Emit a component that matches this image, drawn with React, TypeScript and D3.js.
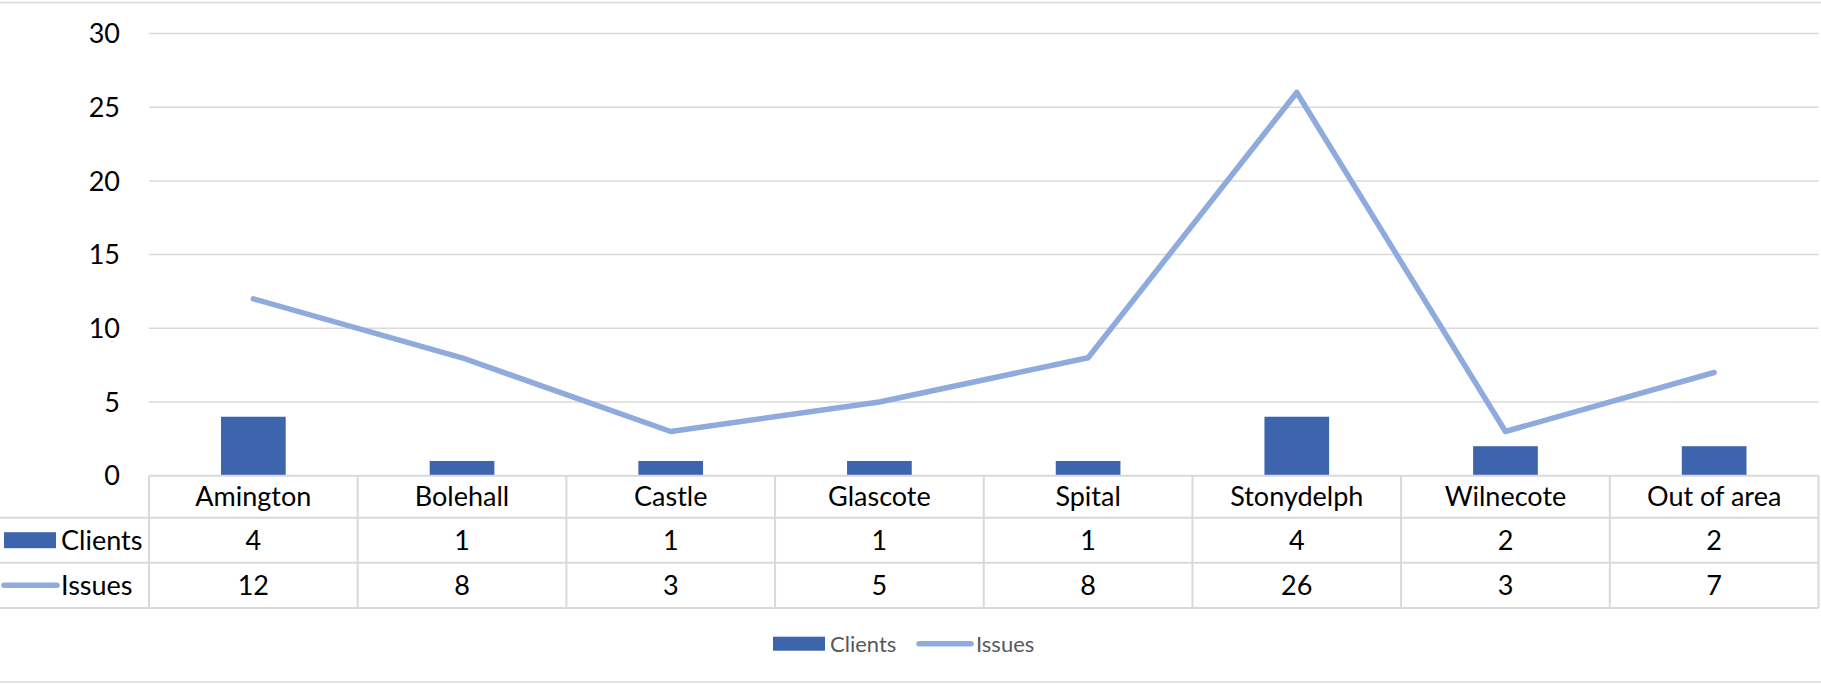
import { useEffect, useRef } from "react"
import * as d3 from "d3"

const categories = ["Amington", "Bolehall", "Castle", "Glascote", "Spital", "Stonydelph", "Wilnecote", "Out of area"]
const clients = [4, 1, 1, 1, 1, 4, 2, 2]
const issues = [12, 8, 3, 5, 8, 26, 3, 7]
const yTicks = [0, 5, 10, 15, 20, 25, 30]

const W = 1821
const H = 684
const BAR = "#3D65AE"
const LINE = "#8FAADC"
const GRID = "#D9D9D9"
const FONT = "Lato, 'Open Sans', sans-serif"

export default function App() {
  const svgRef = useRef<SVGSVGElement>(null)

  useEffect(() => {
    if (!svgRef.current) return
    const svg = d3.select(svgRef.current)
    svg.selectAll("*").remove()

    const left = 149
    const right = 1818.5
    const top = 33.5
    const zeroY = 475.7
    const rowTops = [zeroY, 517.7, 562.7, 608]

    const x = d3.scaleBand<string>().domain(categories).range([left, right]).padding(0)
    const y = d3.scaleLinear().domain([0, 30]).range([zeroY, top])
    const barW = x.bandwidth() * 0.31
    const cx = (c: string) => (x(c) as number) + x.bandwidth() / 2

    // outer border lines
    svg.append("line").attr("x1", 0).attr("x2", W).attr("y1", 2.5).attr("y2", 2.5)
      .style("stroke", GRID).style("stroke-width", 1.5)
    svg.append("line").attr("x1", 0).attr("x2", W).attr("y1", 682).attr("y2", 682)
      .style("stroke", GRID).style("stroke-width", 1.5)

    // gridlines
    svg.append("g").selectAll("line").data(yTicks.filter((t) => t > 0)).enter().append("line")
      .attr("x1", left).attr("x2", right)
      .attr("y1", (d) => y(d)).attr("y2", (d) => y(d))
      .style("stroke", GRID).style("stroke-width", 1.5)

    // y tick labels
    svg.append("g").selectAll("text").data(yTicks).enter().append("text")
      .attr("x", 120).attr("y", (d) => y(d)).attr("dy", "0.36em")
      .attr("text-anchor", "end")
      .style("font-family", FONT).style("font-size", "27px").style("fill", "#000")
      .text((d) => d)

    // bars
    svg.append("g").selectAll("rect").data(clients).enter().append("rect")
      .attr("x", (d, i) => cx(categories[i]) - barW / 2)
      .attr("width", barW)
      .attr("y", (d) => y(d))
      .attr("height", (d) => zeroY - y(d))
      .style("fill", BAR)

    // line
    const line = d3.line<number>()
      .x((d, i) => cx(categories[i]))
      .y((d) => y(d))
    svg.append("path").datum(issues).attr("d", line)
      .style("fill", "none").style("stroke", LINE).style("stroke-width", 5.5)
      .style("stroke-linecap", "round").style("stroke-linejoin", "round")

    // data table
    const tbl = svg.append("g")
    tbl.append("line").attr("x1", left).attr("x2", right).attr("y1", rowTops[0]).attr("y2", rowTops[0])
      .style("stroke", GRID).style("stroke-width", 2)
    rowTops.slice(1).forEach((ry) => {
      tbl.append("line").attr("x1", 0).attr("x2", right).attr("y1", ry).attr("y2", ry)
        .style("stroke", GRID).style("stroke-width", 2)
    })
    const vx = categories.map((c) => x(c) as number).concat([right])
    tbl.selectAll("line.v").data(vx).enter().append("line").attr("class", "v")
      .attr("x1", (d) => d).attr("x2", (d) => d)
      .attr("y1", rowTops[0]).attr("y2", rowTops[3])
      .style("stroke", GRID).style("stroke-width", 2)

    const rowMid = (r: number) => (rowTops[r] + rowTops[r + 1]) / 2
    const cellText = (vals: (string | number)[], r: number) => {
      tbl.append("g").selectAll("text").data(vals).enter().append("text")
        .attr("x", (d, i) => cx(categories[i]))
        .attr("y", rowMid(r)).attr("dy", "0.36em")
        .attr("text-anchor", "middle")
        .style("font-family", FONT).style("font-size", "27px").style("fill", "#000")
        .text((d) => d)
    }
    cellText(categories, 0)
    cellText(clients, 1)
    cellText(issues, 2)

    // table legend keys
    tbl.append("rect").attr("x", 4).attr("y", rowMid(1) - 8).attr("width", 52).attr("height", 16)
      .style("fill", BAR)
    tbl.append("line").attr("x1", 4).attr("x2", 57).attr("y1", rowMid(2)).attr("y2", rowMid(2))
      .style("stroke", LINE).style("stroke-width", 5.5).style("stroke-linecap", "round")
    ;[["Clients", 1], ["Issues", 2]].forEach(([t, r]) => {
      tbl.append("text").attr("x", 61).attr("y", rowMid(r as number)).attr("dy", "0.36em")
        .style("font-family", FONT).style("font-size", "27px").style("fill", "#000")
        .text(t as string)
    })

    // bottom legend
    const lg = svg.append("g")
    const ly = 643.7
    lg.append("rect").attr("x", 773).attr("y", ly - 7).attr("width", 52).attr("height", 14).style("fill", BAR)
    lg.append("text").attr("x", 830).attr("y", ly).attr("dy", "0.36em")
      .style("font-family", FONT).style("font-size", "22px").style("fill", "#595959").text("Clients")
    lg.append("line").attr("x1", 919).attr("x2", 971).attr("y1", ly).attr("y2", ly)
      .style("stroke", LINE).style("stroke-width", 5.5).style("stroke-linecap", "round")
    lg.append("text").attr("x", 976).attr("y", ly).attr("dy", "0.36em")
      .style("font-family", FONT).style("font-size", "22px").style("fill", "#595959").text("Issues")
  }, [])

  return (
    <svg ref={svgRef} width={W} height={H}
      style={{ position: "absolute", left: 0, top: 0, background: "#fff" }} />
  )
}
